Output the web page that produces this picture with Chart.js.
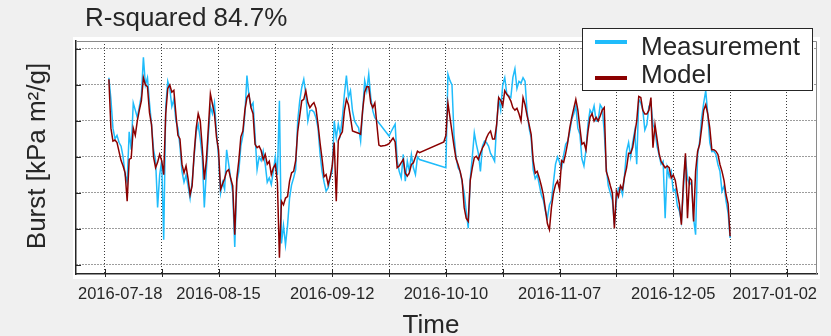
<!DOCTYPE html>
<html>
<head>
<meta charset="utf-8">
<script src="https://cdn.jsdelivr.net/npm/chart.js@4/dist/chart.umd.min.js"></script>
<style>
  html, body { margin: 0; padding: 0; background: #f0f0f0; }
  canvas { display: block; }
</style>
</head>
<body>
<canvas id="burstChart" width="831" height="336"></canvas>
<script>
// day 0 = 2016-07-18, readings every half day from day 1 to day 154
const startDate = "2016-07-18";
const dayNumbers = Array.from({ length: 307 }, (_, i) => 1 + i / 2);

const measurement = [
  5.2, 4.6, 3.8, 3.5, 3.6, 3.4, 3.3, 3.0, 2.5, 2.3,
  3.7, 3.2, 4.5, 4.3, 4.1, 4.4, 4.7, 5.77, 5.0, 5.2,
  4.5, 3.9, 3.2, 2.9, 1.6, 2.5, 2.9, 0.7, 4.4, 5.1,
  4.9, 4.4, 4.6, 4.0, 3.8, 3.3, 2.6, 2.3, 2.5, 2.2,
  1.85, 2.3, 3.0, 3.7, 3.9, 3.5, 3.0, 1.6, 2.6, 3.6,
  4.4, 4.2, 4.5, 3.7, 3.0, 2.0, 2.3, 2.1, 3.2, 2.8,
  2.4, 2.0, 0.5, 2.3, 2.6, 3.3, 3.6, 4.2, 5.26, 4.7,
  4.4, 4.5, 3.6, 2.65, 3.0, 2.9, 3.16, 2.8, 2.3, 2.42,
  2.23, 2.6, 3.0, 2.5, 4.56, 0.6, 1.1, 0.56, 1.1, 1.86,
  2.23, 2.42, 2.65, 4.0, 4.56, 4.93, 5.16, 4.74, 4.0, 4.28,
  4.3, 4.25, 4.09, 3.81, 3.1, 2.6, 2.3, 2.05, 2.14, 2.42,
  2.6, 4.0, 3.53, 3.91, 3.63, 4.09, 4.74, 5.26, 4.65, 4.84,
  4.28, 4.0, 3.9, 3.81, 3.44, 4.28, 5.12, 4.84, 5.3, 4.65,
  4.28, 4.09, null, null, null, null, null, null, 3.58, 3.7,
  3.81, 3.91, 2.9, 2.6, 2.42, 3.07, 2.33, 2.88, 2.6, 3.07,
  2.7, 2.51, 3.0, 2.93, null, null, null, null, null, null,
  null, null, null, null, null, null, 2.7, 5.3, 5.12, 5.0,
  3.6, 3.0, 2.7, 2.6, 2.3, 2.0, 1.5, 1.02, 2.4, 3.0,
  3.67, 3.35, 3.1, 2.6, 3.3, 3.44, 3.4, 3.3, 3.1, 3.0,
  2.88, 3.9, 4.6, 4.3, 5.0, 5.2, 4.75, 4.7, 4.65, 5.21,
  5.45, 4.9, 5.1, 5.05, 5.2, 5.1, 4.25, 3.8, 3.53, 2.65,
  2.4, 2.5, 2.23, 1.95, 1.8, 1.5, 1.3, 1.67, 1.8, 2.3,
  2.8, 3.0, 2.85, 2.7, 3.05, 3.35, 3.44, 3.7, 4.05, 4.2,
  4.42, 3.8, 3.63, 2.95, 2.75, 3.2, 3.91, 4.3, 4.2, 4.42,
  4.0, 4.0, 4.45, 4.35, 3.7, 2.7, 2.2, 2.0, 1.8, 1.12,
  1.77, 2.14, 2.15, 1.95, 2.5, 3.16, 3.4, 3.0, 3.4, 3.72,
  2.8, 4.6, 4.5, 4.3, 3.75, 3.9, 4.4, 4.5, 3.91, 3.75,
  3.3, 3.05, 2.8, 2.88, 1.3, 2.7, 2.45, 2.6, 2.05, 2.1,
  1.65, 1.5, 1.21, 2.1, 3.0, 2.4, 2.23, 2.3, 1.3, 0.84,
  3.07, 3.44, 4.09, 4.5, 4.84, 4.19, 3.4, 3.15, 3.16, 3.07,
  2.79, 2.6, 2.05, 2.2, 1.77, 1.45, 0.75,
];

const model = [
  5.16, 3.8, 3.44, 3.47, 3.4, 3.15, 2.9, 2.75, 2.55, 1.77,
  2.93, 2.97, 3.8, 3.6, 4.0, 4.3, 4.56, 5.2, 5.0, 4.95,
  4.23, 3.9, 3.0, 2.7, 2.85, 3.07, 2.9, 2.51, 4.2, 4.9,
  5.0, 4.8, 4.85, 4.19, 3.6, 3.5, 2.8, 2.56, 2.75, 2.4,
  1.95, 2.2, 3.1, 3.8, 4.2, 4.0, 3.25, 2.37, 2.9, 3.8,
  4.75, 4.47, 4.2, 3.55, 3.2, 2.1, 2.25, 2.4, 2.6, 2.65,
  2.4, 2.2, 0.84, 2.4, 2.9, 3.56, 3.72, 4.3, 4.65, 4.74,
  4.37, 4.2, 3.35, 3.26, 3.3, 3.18, 2.93, 3.07, 2.8, 2.88,
  2.51, 2.7, 2.79, 2.3, 0.2, 1.77, 1.67, 1.86, 1.9, 2.33,
  2.56, 2.6, 2.9, 3.7, 4.14, 4.56, 4.6, 4.84, 4.51, 4.37,
  4.45, 4.51, 4.35, 3.91, 3.4, 2.95, 2.45, 2.51, 2.23, 2.45,
  2.75, 3.4, 1.77, 3.45, 3.6, 3.7, 4.28, 4.6, 4.45, 4.1,
  3.72, 3.7, 3.68, 3.66, 3.63, 4.3, 4.8, 4.95, 4.95, 4.5,
  4.37, 4.5, 3.9, 3.33, 3.3, 3.31, 3.32, 3.34, 3.37, 3.45,
  3.53, 3.42, 2.7, 2.75, 2.84, 2.93, 2.55, 2.47, 2.56, 2.79,
  2.84, 3.0, 3.16, 3.12, null, null, null, null, null, null,
  null, null, null, null, null, 3.42, 3.6, 4.5, 4.1, 3.7,
  3.3, 2.95, 2.79, 2.6, 2.35, 1.6, 1.3, 1.21, 2.35, 2.7,
  2.98, 3.02, 2.93, 3.1, 3.25, 3.35, 3.53, 3.65, 3.72, 3.5,
  3.5, 3.9, 4.65, 4.57, 4.42, 4.84, 4.74, 4.67, 4.55, 4.37,
  4.3, 4.35, 4.2, 4.0, 4.65, 4.45, 4.15, 3.9, 3.63, 2.9,
  2.55, 2.6, 2.42, 2.2, 1.95, 1.55, 1.15, 0.98, 1.6, 2.0,
  2.23, 2.33, 2.1, 2.9, 2.85, 3.1, 3.4, 3.8, 4.1, 4.35,
  4.6, 4.3, 3.81, 3.35, 3.4, 3.2, 3.72, 4.1, 4.2, 4.0,
  4.1, 4.0, 4.14, 4.3, 4.37, 2.6, 2.42, 2.2, 2.0, 1.02,
  2.05, 1.9, 2.2, 2.1, 2.45, 2.7, 3.1, 3.1, 3.26, 3.63,
  4.0, 4.68, 4.65, 4.3, 4.19, 4.19, 4.3, 4.65, 3.26, 3.9,
  3.5, 3.1, 2.88, 2.79, 2.7, 2.75, 2.7, 2.42, 2.5, 2.35,
  2.0, 1.7, 1.12, 2.3, 3.1, 1.3, 2.42, 2.35, 1.21, 2.6,
  3.16, 3.35, 3.81, 4.3, 4.45, 4.19, 3.8, 3.2, 3.2, 3.16,
  3.07, 2.79, 2.6, 2.35, 1.95, 1.7, 0.8,
];

const gridDays = [0, 14, 28, 42, 56, 70, 84, 98, 112, 126, 140, 154, 168];
const labelDays = [0, 28, 56, 84, 112, 140, 168];
const gridLevels = [0, 1, 2, 3, 4, 5, 6];

const titleText = "R-squared 84.7%";
const xTitle = "Time";
const yTitle = "Burst [kPa m²/g]";
const seriesNames = ["Measurement", "Model"];
const seriesColors = ["#1fbcfb", "#8b0000"];

const FONT = '"Liberation Sans", Arial, Helvetica, sans-serif';
const TEXT = "#262626";

function dayLabel(day) {
  const d = new Date(Date.parse(startDate + "T00:00:00Z") + day * 86400000);
  return d.toISOString().slice(0, 10);
}

function toPoints(values) {
  return dayNumbers.map((day, i) => ({ x: day, y: values[i] }));
}

const framePlugin = {
  id: "frame",
  beforeDraw(chart) {
    const { ctx, chartArea: a } = chart;
    ctx.save();
    ctx.fillStyle = "#f0f0f0";
    ctx.fillRect(0, 0, chart.width, chart.height);
    ctx.fillStyle = "#ffffff";
    ctx.fillRect(a.left - 3, a.top - 4, a.right - a.left + 6, a.bottom - a.top + 9);
    ctx.restore();
  },
  afterDraw(chart) {
    const { ctx, chartArea: a } = chart;
    const xScale = chart.scales.x;
    const yScale = chart.scales.y;
    ctx.save();

    // top and right edges of the box
    ctx.strokeStyle = "#8a8a8a";
    ctx.lineWidth = 1;
    ctx.beginPath();
    ctx.moveTo(a.left, a.top + 0.5);
    ctx.lineTo(a.right - 0.5, a.top + 0.5);
    ctx.lineTo(a.right - 0.5, a.bottom);
    ctx.stroke();

    // tick marks
    ctx.strokeStyle = "#262626";
    ctx.beginPath();
    gridDays.forEach((day) => {
      const x = Math.round(xScale.getPixelForValue(day)) + 0.5;
      ctx.moveTo(x, a.bottom + 3);
      ctx.lineTo(x, a.bottom - 5);
    });
    gridLevels.forEach((v) => {
      const y = Math.round(yScale.getPixelForValue(v)) + 0.5;
      ctx.moveTo(a.left, y);
      ctx.lineTo(a.left + 5, y);
    });
    ctx.stroke();

    // x tick labels, kept inside the box width
    ctx.fillStyle = TEXT;
    ctx.font = `16.5px ${FONT}`;
    ctx.textAlign = "center";
    ctx.textBaseline = "alphabetic";
    labelDays.forEach((day) => {
      const text = dayLabel(day);
      const w = ctx.measureText(text).width;
      let cx = xScale.getPixelForValue(day);
      cx = Math.max(a.left + 2 + w / 2, Math.min(a.right - w / 2, cx));
      ctx.fillText(text, cx, a.bottom + 25);
    });

    // titles
    ctx.font = `26px ${FONT}`;
    ctx.textAlign = "left";
    ctx.fillText(titleText, 85, 26);
    ctx.textAlign = "center";
    ctx.fillText(xTitle, 431, 333);
    ctx.save();
    ctx.translate(45, 156);
    ctx.rotate(-Math.PI / 2);
    ctx.fillText(yTitle, 0, 0);
    ctx.restore();

    // legend
    const box = { left: 582, top: 28, right: 813, bottom: 91 };
    ctx.fillStyle = "#ffffff";
    ctx.fillRect(box.left, box.top, box.right - box.left, box.bottom - box.top);
    ctx.strokeStyle = "#262626";
    ctx.lineWidth = 1;
    ctx.strokeRect(box.left + 0.5, box.top + 0.5, box.right - box.left - 1, box.bottom - box.top - 1);
    const rows = [{ lineY: 42, textY: 55 }, { lineY: 78, textY: 83 }];
    rows.forEach((row, i) => {
      ctx.strokeStyle = seriesColors[i];
      ctx.lineWidth = 4;
      ctx.beginPath();
      ctx.moveTo(595, row.lineY);
      ctx.lineTo(627, row.lineY);
      ctx.stroke();
      ctx.fillStyle = TEXT;
      ctx.textAlign = "left";
      ctx.fillText(seriesNames[i], 641, row.textY);
    });

    ctx.restore();
  },
};

const axisGrid = {
  display: true,
  color: "#3a3a3a",
  lineWidth: 1,
  drawTicks: false,
};

new Chart(document.getElementById("burstChart"), {
  type: "line",
  data: {
    datasets: [
      {
        label: seriesNames[0],
        data: toPoints(measurement),
        borderColor: seriesColors[0],
        borderWidth: 1.5,
        pointRadius: 0,
        tension: 0,
        spanGaps: true,
        order: 2,
      },
      {
        label: seriesNames[1],
        data: toPoints(model),
        borderColor: seriesColors[1],
        borderWidth: 1.5,
        pointRadius: 0,
        tension: 0,
        spanGaps: true,
        order: 1,
      },
    ],
  },
  options: {
    responsive: false,
    animation: false,
    devicePixelRatio: 1,
    layout: { padding: { left: 76, top: 41, right: 14, bottom: 62 } },
    plugins: {
      legend: { display: false },
      title: { display: false },
      tooltip: { enabled: false },
    },
    scales: {
      x: {
        type: "linear",
        min: -7.1,
        max: 175.4,
        afterBuildTicks: (scale) => { scale.ticks = gridDays.map((v) => ({ value: v })); },
        ticks: { display: false },
        grid: axisGrid,
        border: { display: true, color: "#262626", width: 1.5, dash: [1, 2] },
      },
      y: {
        type: "linear",
        min: -0.25,
        max: 6.22,
        afterBuildTicks: (scale) => { scale.ticks = gridLevels.map((v) => ({ value: v })); },
        ticks: { display: false },
        grid: axisGrid,
        border: { display: true, color: "#262626", width: 1.5, dash: [1, 2] },
      },
    },
  },
  plugins: [framePlugin],
});
</script>
</body>
</html>
